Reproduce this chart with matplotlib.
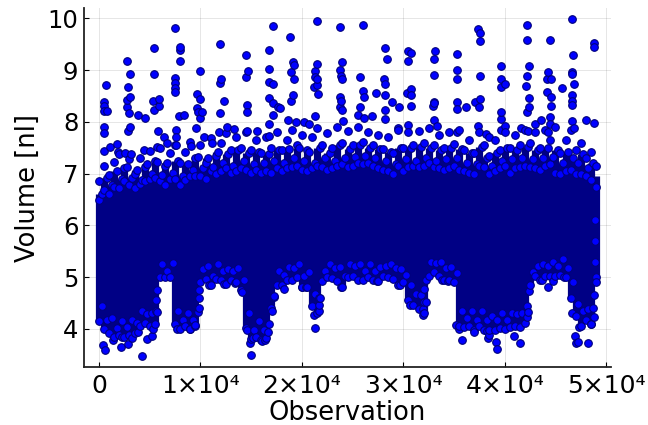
import matplotlib
matplotlib.use("Agg")
import matplotlib.pyplot as plt
import numpy as np

# Individually readable points above the dense mass
upper_obs = [723,460,460,460,756,493,493,460,1084,1808,1840,2794,3057,2826,3057,2794,2761,2925,3845,4569,3090,2826,2530,3155,4404,
 5423,5423,5358,5916,5884,5390,5850,6409,6738,5752,7527,8020,7954,7954,7527,7527,7527,7527,8349,7921,7560,7560,7593,
 9926,9664,9992,9696,10189,9729,9926,9532,10387,11143,9105,11931,12063,11964,12293,11964,11833,12622,13345,
 14528,14725,14528,14561,14561,14561,15580,17158,16796,16796,16796,17158,16796,17125,17684,17158,16796,16763,
 18866,19162,19228,18899,19195,19162,18899,17847,21463,23731,26065,21496,21298,21298,21529,21496,21233,21561,
 23994,23731,23895,23928,23731,23829,23731,23961,21298,25769,26032,26130,25703,25572,26130,26919,27347,
 28168,28366,28136,28201,28234,28891,29615,28201,28168,30437,30733,30469,30765,30338,30765,30765,
 33000,33099,33000,33000,33066,32967,33000,35334,35268,35268,35268,36221,35268,24092,29450,30437,33329,35268,19425,18603,20247,20707,
 37403,37567,37567,37567,37074,37567,37469,37403,38126,38455,39638,39638,40000,39638,39671,39605,40000,39605,
 42169,42169,42399,42169,42136,42366,42432,42169,41643,42301,43024,43583,44503,44240,44569,44207,45620,44207,44536,44536,44503,44503,44240,
 46639,46705,46639,46639,46804,46639,46639,46639,46639,48053,48842,48842,48842,46870]
upper_vol = [8.71,8.39,8.31,8.21,8.21,7.91,7.78,7.43,7.52,7.57,7.41,9.18,8.93,8.68,8.49,8.42,8.28,8.18,8.14,8.08,7.90,7.82,7.39,7.37,7.46,
 9.43,8.93,8.40,8.45,8.31,8.22,7.83,7.70,7.60,7.52,9.82,9.45,9.39,9.18,8.85,8.76,8.65,8.57,8.14,8.11,7.85,7.70,7.56,
 8.98,8.54,8.45,8.27,8.20,8.20,8.07,7.88,7.70,7.60,7.53,9.51,8.83,8.75,8.40,8.17,7.80,7.90,7.86,
 9.30,8.99,8.86,8.33,8.19,7.82,7.83,9.86,9.39,9.03,8.78,8.74,8.47,8.36,8.28,8.14,7.96,7.73,
 9.64,9.16,9.10,8.96,8.82,8.51,8.40,8.27,9.94,9.83,9.88,9.11,8.99,8.87,8.83,8.72,8.67,8.54,
 9.16,9.01,8.89,8.82,8.48,8.40,8.28,8.22,8.11,8.87,8.60,8.49,8.29,8.13,8.08,8.11,8.56,
 9.42,9.21,8.82,8.73,8.51,8.38,8.29,8.23,8.05,9.36,9.34,9.18,8.63,8.55,8.51,8.31,
 8.91,9.36,9.22,8.39,8.36,8.31,8.04,9.32,9.01,8.82,8.38,8.29,8.24,8.02,7.89,7.94,7.93,7.81,8.00,8.04,7.99,7.95,
 9.80,9.72,9.57,8.89,8.38,8.45,8.28,7.92,7.76,7.70,9.07,8.83,8.73,8.67,8.20,8.06,7.93,7.84,
 9.88,9.58,9.08,8.89,8.70,8.47,8.28,8.19,7.88,7.83,7.96,8.03,9.58,8.96,8.83,8.82,8.65,8.57,8.48,8.30,8.09,7.96,7.81,
 9.99,9.29,8.96,8.92,8.74,8.52,8.40,8.32,8.02,8.04,7.97,9.52,9.44,7.88]

# Individually readable points below the dense mass
lower_obs = [394,624,2202,2892,4273,4766,3812,5259,5292,3221,2235,1413,7724,8973,9466,14890,15021,14594,16369,16040,15218,16698,
 10879,12293,13411,14100,18209,20049,20444,21233,21331,21693,21693,21693,23862,29680,30667,31915,31981,32047,32080,32244,33789,34447,
 35236,35466,35794,27445,17091,17255,37008,38389,38488,39112,39244,40920,41479,38225,42169,42169,42399,43681,44240,44799,45850,
 46902,47001,47264,48217,47330,46607,48480,48776,48842,48973,9900,9900,9900,5600,5650,5700,48950,48950,48950]
lower_vol = [3.69,3.60,3.66,3.71,3.47,3.80,3.95,3.87,3.99,3.83,3.84,3.79,3.99,3.99,4.06,3.72,3.50,3.98,3.79,3.76,3.82,3.94,
 4.84,4.87,4.88,4.72,4.77,4.81,4.81,4.27,4.02,4.34,4.47,4.59,4.81,4.84,4.47,4.27,4.38,4.53,4.77,4.95,4.95,4.93,
 4.08,4.00,3.79,4.92,4.34,4.63,3.95,3.82,3.88,3.75,3.62,3.86,3.73,3.96,4.23,4.45,4.74,4.94,4.81,4.92,5.00,
 3.87,3.73,3.74,3.72,4.03,4.30,4.09,4.24,4.66,5.01,4.40,4.60,4.75,4.35,4.55,4.75,5.30,5.70,6.10]

# Outline of the dense mass, one reading every 500 observations
column_obs = list(range(0, 49001, 500))
low = [4.15,4.0,3.92,3.85,3.88,3.84,3.88,3.92,4.05,4.12,4.05,4.1,5.0,5.0,5.0,4.1,4.0,4.05,4.0,4.08,
 4.9,4.97,4.85,4.97,4.95,4.87,4.95,4.9,4.75,4.02,3.8,3.85,3.78,3.82,4.4,4.85,4.85,4.95,4.95,5.0,
 4.82,4.82,4.45,4.3,4.92,5.0,4.98,4.92,4.82,5.0,5.02,4.95,4.95,5.0,4.95,4.93,5.03,5.0,4.97,4.85,
 4.9,4.55,4.47,4.38,4.3,5.03,5.1,5.03,4.95,4.95,4.9,4.05,4.03,4.05,3.98,4.05,3.98,3.98,3.98,4.02,
 4.0,4.03,4.05,4.03,4.12,4.85,5.02,4.95,5.02,5.02,5.03,5.05,5.0,4.6,4.25,4.05,4.18,4.1,4.9]
low_inner = [4.45,4.18,4.22,4.02,4.15,4.03,4.18,4.12,4.35,4.28,4.3,4.33,5.25,5.12,5.28,4.35,4.18,4.3,4.18,4.33,
 5.15,5.22,5.02,5.25,5.12,5.15,5.12,5.18,4.95,4.3,3.98,4.15,3.98,4.1,4.62,5.12,5.05,5.2,5.18,5.25,
 5.02,5.1,4.68,4.6,5.12,5.25,5.18,5.2,5.02,5.25,5.22,5.25,5.12,5.25,5.12,5.2,5.22,5.25,5.18,5.15,
 5.05,4.85,4.68,4.65,4.52,5.3,5.28,5.3,5.18,5.2,5.08,4.35,4.22,4.35,4.18,4.35,4.18,4.25,4.18,4.3,
 4.18,4.3,4.28,4.3,4.32,5.1,5.22,5.25,5.22,5.3,5.22,5.35,5.18,4.9,4.48,4.35,4.38,4.4,5.15]
high = [6.85,7.15,6.98,7.22,7.38,7.1,7.28,7.0,7.3,7.12,7.44,7.25,7.5,7.15,7.4,7.55,7.2,7.42,7.62,7.3,
 7.55,7.2,7.68,7.35,7.6,7.78,7.45,7.7,7.5,7.8,7.45,7.65,7.4,7.7,7.5,7.8,7.45,7.65,7.85,7.55,
 7.75,7.45,7.7,7.88,7.55,7.78,7.5,7.9,7.6,7.82,7.55,7.9,7.62,7.8,7.55,7.75,7.48,7.7,7.4,7.85,
 7.5,7.8,7.55,7.82,7.6,7.88,7.55,7.75,7.5,7.8,7.58,7.85,7.45,7.65,7.4,7.8,7.55,7.35,7.65,7.45,
 7.8,7.5,7.75,7.55,7.85,7.6,7.8,7.5,7.85,7.65,7.9,7.4,7.65,7.85,7.45,7.6,7.3,7.42,7.15]
high_mid = [6.6,6.92,6.78,7.05,6.9,7.12,6.92,7.08,6.88,7.18,7.0,7.22,6.98,7.2,7.02,7.25,6.95,7.18,7.08,7.32,
 7.1,7.3,7.12,7.42,7.2,7.38,7.15,7.45,7.25,7.4,7.18,7.42,7.2,7.38,7.25,7.45,7.2,7.48,7.3,7.5,
 7.25,7.42,7.2,7.5,7.3,7.4,7.25,7.55,7.3,7.48,7.32,7.55,7.35,7.5,7.3,7.48,7.25,7.42,7.18,7.5,
 7.28,7.5,7.25,7.52,7.3,7.5,7.25,7.45,7.28,7.5,7.3,7.48,7.2,7.4,7.18,7.52,7.3,7.15,7.4,7.25,
 7.5,7.28,7.45,7.3,7.52,7.28,7.45,7.3,7.5,7.32,7.45,7.2,7.42,7.3,7.2,7.38,7.1,7.2,6.95]
high_base = [6.5,6.68,6.6,6.75,6.72,6.85,6.78,6.72,6.8,6.85,6.9,6.92,6.85,6.78,6.9,6.9,6.78,6.88,6.95,6.95,
 6.95,6.9,7.05,7.0,7.05,7.1,7.02,7.05,7.1,7.08,7.02,7.08,7.02,7.05,7.02,7.1,7.05,7.1,7.12,7.15,
 7.08,7.05,7.1,7.15,7.12,7.08,7.1,7.15,7.18,7.12,7.15,7.2,7.18,7.2,7.15,7.1,7.08,7.05,7.0,7.15,
 7.05,7.12,7.15,7.12,7.15,7.2,7.12,7.1,7.08,7.1,7.15,7.08,7.05,7.02,7.0,7.15,7.12,7.0,7.05,7.1,
 7.15,7.02,7.1,7.12,7.15,7.12,7.1,7.08,7.15,7.18,7.02,7.0,7.05,7.08,7.0,7.0,6.95,6.88,6.75]

x_ticks = [0, 10000, 20000, 30000, 40000, 50000]
x_tick_labels = ["0", "1×10⁴", "2×10⁴", "3×10⁴", "4×10⁴", "5×10⁴"]
y_ticks = [4, 5, 6, 7, 8, 9, 10]

W, H = 648, 425
fig = plt.figure(figsize=(W/100, H/100), dpi=100)
ax = fig.add_axes([84/W, 1-367/H, (610.5-84)/W, (367-8)/H])

ax.set_xlim(-1480, 50430)
ax.set_ylim(3.265, 10.2)
ax.grid(True, color="#000000", alpha=0.1, lw=0.7, zorder=0)
ax.set_axisbelow(True)

# solid core of the mass between the lower and upper readings
ax.vlines(column_obs, low, high_mid, color="#000085", lw=5.2, zorder=2)

half_step = [c + 250 for c in column_obs]
all_obs = np.array(upper_obs + lower_obs + column_obs + column_obs + half_step + column_obs + half_step)
all_vol = np.array(upper_vol + lower_vol + low + high + high_mid + high_base + low_inner)
order = np.argsort(all_obs, kind="stable")
keep = all_obs[order] <= 49000
ax.scatter(all_obs[order][keep], all_vol[order][keep], s=30, c="#0000ff",
           edgecolors="#00007a", linewidths=0.8, zorder=3, clip_on=False)

ax.set_xticks(x_ticks)
ax.set_xticklabels(x_tick_labels, fontsize=18)
ax.set_yticks(y_ticks)
ax.tick_params(axis="both", direction="in", length=3.5, width=0.8, colors="black", pad=5)
ax.tick_params(axis="y", labelsize=17.5, pad=4)
for s in ("top", "right"):
    ax.spines[s].set_visible(False)
for s in ("left", "bottom"):
    ax.spines[s].set_linewidth(1.3)
    ax.spines[s].set_color("#222222")
ax.set_xlabel("Observation", fontsize=18.5, labelpad=1.5)
ax.set_ylabel("Volume [nl]", fontsize=18.5, labelpad=5)
fig.savefig("out.png", dpi=100)
